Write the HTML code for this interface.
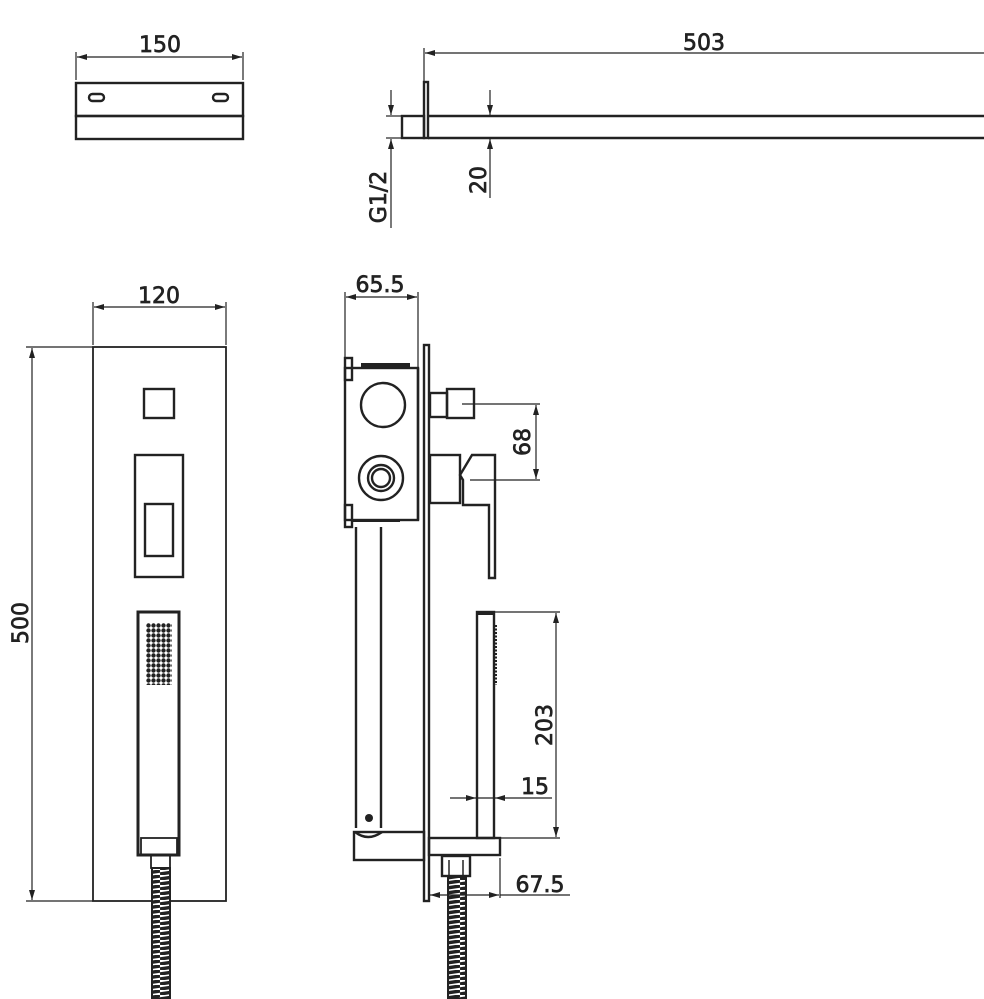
<!DOCTYPE html>
<html><head><meta charset="utf-8"><style>
html,body{margin:0;padding:0;background:#fff}
svg{display:block}
text{font-family:"DejaVu Sans","Liberation Sans",sans-serif;font-size:22px;fill:#222;stroke:#222;stroke-width:0.7}
</style></head><body>
<svg width="984" height="999" viewBox="0 0 984 999" xmlns="http://www.w3.org/2000/svg">
<defs>
<marker id="a" viewBox="0 0 10 6" refX="10" refY="3" markerWidth="12" markerHeight="6" markerUnits="userSpaceOnUse" orient="auto-start-reverse"><path d="M0,0 L10,3 L0,6 z" fill="#222"/></marker>
<pattern id="dots" x="146" y="623" width="5" height="5" patternUnits="userSpaceOnUse"><circle cx="2.5" cy="2.5" r="2.2" fill="#222"/></pattern>
<pattern id="hose" x="0" y="0" width="20" height="5" patternUnits="userSpaceOnUse"><rect width="20" height="5" fill="#fff"/><path d="M0,4 L20,1" stroke="#222" stroke-width="3.4"/></pattern>
</defs>
<g fill="none" stroke="#222" stroke-width="2.4">
<rect x="76" y="83" width="167" height="33"/>
<rect x="76" y="116" width="167" height="23"/>
<rect x="89" y="94" width="15" height="7" rx="3.5"/>
<rect x="213" y="94" width="15" height="7" rx="3.5"/>
<rect x="402" y="116" width="22" height="22"/>
<rect x="424" y="82" width="4" height="56"/>
<line x1="428" y1="116" x2="984" y2="116"/>
<line x1="428" y1="138" x2="984" y2="138"/>
<rect x="93" y="347" width="133" height="554" stroke-width="1.8"/>
<rect x="144" y="389" width="30" height="29"/>
<rect x="135" y="455" width="48" height="122"/>
<rect x="145" y="504" width="28" height="52"/>
<rect x="138" y="612" width="41" height="243" stroke-width="3"/>
<rect x="141" y="838" width="36" height="17" stroke-width="1.8"/>
<rect x="151" y="855" width="19" height="13" stroke-width="1.8"/>
<rect x="345" y="368" width="73" height="152"/>
<rect x="345" y="358" width="7" height="22"/>
<rect x="345" y="505" width="7" height="22"/>
<line x1="361" y1="365" x2="410" y2="365" stroke-width="4"/>
<line x1="352" y1="521" x2="400" y2="521" stroke-width="2"/>
<circle cx="383" cy="405" r="22"/>
<circle cx="381" cy="478" r="22"/>
<circle cx="381" cy="478" r="13"/>
<circle cx="381" cy="478" r="9"/>
<line x1="418" y1="368" x2="418" y2="520"/>
<rect x="424" y="345" width="5" height="556"/>
<rect x="430" y="393" width="17" height="24"/>
<rect x="447" y="389" width="27" height="29"/>
<rect x="430" y="455" width="30" height="48"/>
<path d="M460,475 L472,455 L495,455 L495,578 L489,578 L489,505 L463,505 L463,480 Z"/>
<line x1="356" y1="527" x2="356" y2="828"/>
<line x1="381" y1="527" x2="381" y2="828"/>
<path d="M355,832 Q368,842 382,832"/>
<rect x="354" y="832" width="70" height="28"/>
<rect x="477" y="612" width="17" height="226"/>
<line x1="477" y1="613" x2="494" y2="613" stroke-width="4"/>
<line x1="496" y1="625" x2="496" y2="685" stroke-width="2" stroke-dasharray="2,1.5"/>
<rect x="429" y="838" width="71" height="17"/>
<rect x="442" y="856" width="28" height="20"/>
<line x1="449" y1="860" x2="449" y2="875" stroke-width="1.5"/>
<line x1="463" y1="860" x2="463" y2="875" stroke-width="1.5"/>
</g>
<rect x="146" y="623" width="26" height="62" fill="url(#dots)"/>
<rect x="152" y="868" width="18" height="131" fill="url(#hose)" stroke="#222" stroke-width="2"/>
<rect x="448" y="877" width="18" height="122" fill="url(#hose)" stroke="#222" stroke-width="2"/>
<circle cx="369" cy="818" r="4" fill="#222"/>
<g stroke="#222" stroke-width="1.2" fill="none">
<line x1="76" y1="52" x2="76" y2="80"/><line x1="243" y1="52" x2="243" y2="80"/>
<line x1="77" y1="57" x2="242" y2="57" marker-start="url(#a)" marker-end="url(#a)"/>
<line x1="424" y1="48" x2="424" y2="82"/>
<line x1="425" y1="53" x2="984" y2="53" marker-start="url(#a)"/>
<line x1="386" y1="116" x2="402" y2="116"/><line x1="386" y1="138" x2="402" y2="138"/>
<line x1="391" y1="90" x2="391" y2="115" marker-end="url(#a)"/>
<line x1="391" y1="228" x2="391" y2="139" marker-end="url(#a)"/>
<line x1="490" y1="90" x2="490" y2="115" marker-end="url(#a)"/>
<line x1="490" y1="198" x2="490" y2="139" marker-end="url(#a)"/>
<line x1="93" y1="302" x2="93" y2="345"/><line x1="226" y1="302" x2="226" y2="345"/>
<line x1="94" y1="307" x2="225" y2="307" marker-start="url(#a)" marker-end="url(#a)"/>
<line x1="26" y1="347" x2="93" y2="347"/><line x1="26" y1="901" x2="93" y2="901"/>
<line x1="32" y1="348" x2="32" y2="900" marker-start="url(#a)" marker-end="url(#a)"/>
<line x1="345" y1="292" x2="345" y2="358"/><line x1="418" y1="292" x2="418" y2="368"/>
<line x1="346" y1="297" x2="417" y2="297" marker-start="url(#a)" marker-end="url(#a)"/>
<line x1="462" y1="404" x2="540" y2="404"/><line x1="470" y1="480" x2="540" y2="480"/>
<line x1="536" y1="405" x2="536" y2="479" marker-start="url(#a)" marker-end="url(#a)"/>
<line x1="494" y1="612" x2="560" y2="612"/><line x1="500" y1="838" x2="560" y2="838"/>
<line x1="556" y1="613" x2="556" y2="837" marker-start="url(#a)" marker-end="url(#a)"/>
<line x1="450" y1="798" x2="476" y2="798" marker-end="url(#a)"/>
<line x1="552" y1="798" x2="495" y2="798" marker-end="url(#a)"/>
<line x1="477" y1="798" x2="494" y2="798"/>
<line x1="500" y1="858" x2="500" y2="898"/>
<line x1="430" y1="895" x2="499" y2="895" marker-start="url(#a)" marker-end="url(#a)"/>
<line x1="500" y1="895" x2="570" y2="895"/>
</g>
<text x="160" y="52" text-anchor="middle">150</text>
<text x="704" y="50" text-anchor="middle">503</text>
<text transform="translate(386,197) rotate(-90)" text-anchor="middle">G1/2</text>
<text transform="translate(486,180) rotate(-90)" text-anchor="middle">20</text>
<text x="159" y="303" text-anchor="middle">120</text>
<text transform="translate(28,623) rotate(-90)" text-anchor="middle">500</text>
<text x="380" y="292" text-anchor="middle">65.5</text>
<text transform="translate(530,442) rotate(-90)" text-anchor="middle">68</text>
<text transform="translate(552,725) rotate(-90)" text-anchor="middle">203</text>
<text x="535" y="794" text-anchor="middle">15</text>
<text x="540" y="892" text-anchor="middle">67.5</text>
</svg>
</body></html>
